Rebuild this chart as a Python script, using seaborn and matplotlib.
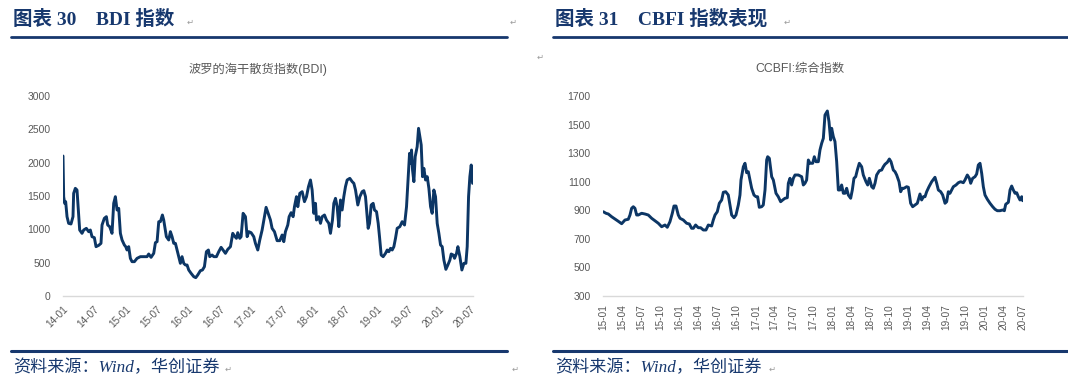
import numpy as np
import pandas as pd
import matplotlib
matplotlib.use("Agg")
import matplotlib.pyplot as plt
import matplotlib.dates as mdates
import seaborn as sns

# ---------------- data ----------------
# BDI: months since 2014-01 and index value
bdi_months = [0.0, 0.13, 0.32, 0.51, 0.77, 1.08, 1.53, 1.91, 2.04, 2.36, 2.68, 2.81, 3.19, 3.64, 3.96,
              4.47, 4.91, 5.23, 5.55, 6.00, 6.32, 6.83, 7.27, 7.47, 7.91, 8.30, 8.55, 8.93, 9.38, 9.70,
              10.02, 10.34, 10.66, 10.98, 11.30, 11.74, 12.00, 12.25, 12.57, 12.89, 13.21, 13.66, 14.17,
              14.81, 15.44, 16.08, 16.40, 16.85, 17.36, 17.68, 18.00, 18.32, 18.63, 19.02, 19.27, 19.78,
              20.23, 20.55, 20.87, 21.19, 21.51, 21.83, 22.14, 22.46, 22.78, 23.10, 23.42, 23.74, 24.06,
              24.51, 25.02, 25.40, 25.78, 26.29, 26.68, 27.06, 27.44, 27.82, 28.08, 28.53, 28.85, 29.36,
              29.80, 30.25, 30.63, 31.08, 31.53, 32.04, 32.48, 32.80, 33.18, 33.44, 33.82, 34.08, 34.46,
              34.91, 35.23, 35.55, 35.99, 36.50, 36.82, 37.27, 37.65, 38.10, 38.54, 38.86, 39.25, 39.69,
              40.01, 40.46, 40.97, 41.48, 41.93, 42.25, 42.56, 43.01, 43.27, 43.65, 44.03, 44.29, 44.67,
              44.93, 45.31, 45.76, 46.20, 46.59, 46.97, 47.35, 47.67, 47.99, 48.31, 48.50, 48.95, 49.27,
              49.59, 50.03, 50.41, 50.86, 51.18, 51.56, 51.82, 52.14, 52.46, 52.78, 53.09, 53.41, 53.73,
              54.05, 54.37, 54.88, 55.33, 55.65, 55.97, 56.41, 56.80, 57.24, 57.56, 57.88, 58.20, 58.39,
              58.65, 58.97, 59.35, 59.60, 59.99, 60.31, 60.56, 60.88, 61.26, 61.71, 62.03, 62.35, 62.67,
              62.99, 63.31, 63.62, 63.94, 64.45, 64.90, 65.35, 65.73, 65.99, 66.31, 66.50, 66.69, 66.88,
              67.14, 67.39, 67.77, 68.03, 68.28, 68.54, 68.79, 69.05, 69.37, 69.69, 70.01, 70.33, 70.64,
              70.96, 71.28, 71.60, 71.92, 72.24, 72.56, 72.88, 73.26, 73.64, 74.03, 74.28, 74.66, 74.92,
              75.30, 75.56, 75.94, 76.32, 76.71, 77.09, 77.34, 77.60, 77.85, 78.11, 78.37]
bdi_values = [2100, 1490, 1390, 1415, 1190, 1090, 1080, 1190, 1540, 1615, 1590, 1440, 990, 940, 990,
              1015, 965, 990, 890, 875, 740, 760, 790, 1065, 1165, 1190, 1065, 1040, 940, 1390,
              1490, 1290, 1315, 940, 840, 765, 740, 690, 740, 565, 515, 515, 565,
              590, 590, 590, 630, 580, 640, 800, 815, 1115, 1115, 1215, 1140, 890,
              840, 965, 890, 790, 790, 690, 590, 490, 590, 490, 465, 465, 390,
              340, 290, 275, 315, 380, 390, 440, 665, 690, 590, 615, 590, 590,
              665, 730, 690, 640, 700, 740, 940, 900, 865, 950, 865, 890, 1240,
              1190, 890, 965, 950, 890, 790, 690, 840, 990, 1190, 1330, 1240, 1140,
              1015, 965, 830, 830, 915, 815, 965, 1065, 1190, 1250, 1190, 1340, 1490,
              1340, 1540, 1565, 1415, 1490, 1640, 1740, 1590, 1240, 1390, 1140, 1190, 1090,
              1190, 1215, 1140, 1090, 940, 1140, 1390, 1465, 1340, 1040, 1440, 1290, 1490,
              1640, 1740, 1765, 1715, 1690, 1590, 1365, 1490, 1565, 1580, 1490, 1190, 1015,
              1090, 1365, 1390, 1290, 1265, 1090, 890, 615, 590, 640, 690, 665, 715,
              690, 740, 865, 1015, 1040, 1115, 1065, 1340, 1690, 2140, 1990, 2190, 1890,
              1715, 2090, 2240, 2515, 2390, 2265, 1790, 1915, 1740, 1790, 1615, 1340, 1240,
              1590, 1490, 1090, 940, 765, 740, 540, 400, 465, 540, 630, 615, 565,
              640, 740, 590, 390, 490, 490, 740, 1490, 1790, 1965, 1690]

# CCBFI: months since 2015-01 and index value
cbfi_months = [0.0, 0.42, 0.79, 1.31, 1.84, 2.36, 2.89, 3.41, 3.93, 4.20, 4.46, 4.72, 4.98, 5.25, 5.51,
               6.03, 6.56, 7.08, 7.61, 8.13, 8.66, 9.18, 9.71, 10.07, 10.49, 10.86, 11.12, 11.44, 11.80,
               12.07, 12.59, 13.12, 13.54, 13.90, 14.17, 14.53, 14.95, 15.32, 15.74, 16.16, 16.53, 17.05,
               17.31, 17.58, 17.94, 18.26, 18.63, 18.89, 19.26, 19.67, 19.94, 20.20, 20.57, 20.88, 21.25,
               21.51, 21.67, 22.04, 22.30, 22.56, 22.82, 23.09, 23.35, 23.71, 24.03, 24.29, 24.55, 24.92,
               25.18, 25.45, 25.71, 25.87, 26.13, 26.50, 26.76, 27.18, 27.54, 27.91, 28.23, 28.59, 28.96,
               29.12, 29.38, 29.64, 29.91, 30.17, 30.69, 31.22, 31.48, 31.74, 32.00, 32.27, 32.53, 32.95,
               33.21, 33.47, 33.84, 34.10, 34.37, 34.63, 34.89, 35.26, 35.52, 35.78, 35.94, 36.20, 36.46,
               36.73, 36.99, 37.25, 37.51, 37.78, 38.04, 38.30, 38.56, 38.93, 39.19, 39.45, 39.72, 39.98,
               40.29, 40.66, 40.92, 41.34, 41.61, 41.87, 42.24, 42.50, 42.76, 43.02, 43.44, 43.81, 44.07,
               44.33, 44.70, 45.02, 45.28, 45.64, 45.91, 46.17, 46.54, 46.80, 47.06, 47.32, 47.74, 48.01,
               48.37, 48.69, 49.06, 49.42, 49.84, 50.10, 50.37, 50.63, 50.89, 51.26, 51.68, 52.20, 52.47,
               52.73, 53.10, 53.41, 53.78, 54.04, 54.30, 54.56, 54.83, 55.09, 55.51, 55.88, 56.24, 56.66,
               56.92, 57.29, 57.61, 57.82, 58.13, 58.50, 58.76, 59.02, 59.29, 59.55, 59.81, 60.07, 60.44,
               60.86, 61.28, 61.65, 62.01, 62.43, 62.85, 63.12, 63.33, 63.75, 64.01, 64.27, 64.53, 64.80,
               65.06, 65.32, 65.58, 65.85, 66.00]
cbfi_values = [890, 879, 874, 855, 839, 823, 806, 832, 837, 867, 914, 925, 914, 867, 867,
               879, 874, 867, 844, 827, 809, 785, 797, 781, 820, 879, 930, 930, 867,
               844, 832, 809, 804, 774, 774, 797, 778, 778, 762, 762, 797, 790,
               832, 867, 890, 949, 972, 1026, 1030, 1007, 937, 867, 848, 867, 937,
               1007, 1112, 1205, 1229, 1163, 1170, 1112, 1054, 1007, 995, 995, 921, 925,
               937, 1042, 1252, 1275, 1264, 1135, 1112, 1019, 995, 960, 972, 984, 988,
               1089, 1124, 1077, 1124, 1147, 1147, 1135, 1077, 1089, 1112, 1252, 1229, 1229,
               1275, 1240, 1240, 1322, 1369, 1404, 1567, 1595, 1520, 1392, 1474, 1416, 1381,
               1240, 1042, 1042, 1077, 1019, 1019, 1054, 1007, 984, 1042, 1124, 1135, 1182,
               1229, 1205, 1147, 1100, 1077, 1124, 1065, 1054, 1089, 1147, 1177, 1182, 1205,
               1222, 1236, 1259, 1240, 1182, 1170, 1147, 1100, 1030, 1054, 1054, 1065, 1061,
               949, 925, 937, 949, 1014, 972, 995, 995, 1030, 1065, 1100, 1131, 1089,
               1042, 1030, 1007, 949, 960, 1030, 1019, 1042, 1065, 1077, 1093, 1100, 1093,
               1112, 1147, 1124, 1089, 1124, 1135, 1154, 1217, 1229, 1159, 1065, 1007, 977,
               949, 925, 907, 897, 897, 902, 897, 942, 956, 1042, 1070, 1042, 1019,
               1023, 995, 972, 995, 967]

bdi_ticks_months = [1, 7]
cbfi_ticks_months = [1, 4, 7, 10]
bdi_title = "波罗的海干散货指数(BDI)"
cbfi_title = "CCBFI:综合指数"
header_left = "图表 30    BDI 指数"
header_right = "图表 31    CBFI 指数表现"
source_text = "资料来源：Wind，华创证券"

# ---------------- style ----------------
sns.set_style("white")
plt.rcParams["font.family"] = ["Liberation Sans", "Noto Sans CJK SC", "DejaVu Sans"]

LINE = "#0c3665"
NAVY = "#17386e"
GRAY = "#595959"
AXIS = "#d9d9d9"

W, H = 1068, 385
fig = plt.figure(figsize=(W / 100, H / 100), dpi=100)


def fx(px):
    return px / W


def fy(py):
    return 1 - py / H


def to_dates(start, months):
    return pd.Timestamp(start) + pd.to_timedelta(np.asarray(months) * 30.4375, unit="D")


bdi_df = pd.DataFrame({"date": to_dates("2014-01-01", bdi_months), "value": bdi_values})
cbfi_df = pd.DataFrame({"date": to_dates("2015-01-01", cbfi_months), "value": cbfi_values})

# ---------------- left chart ----------------
axL = fig.add_axes([fx(63), fy(296), fx(473) - fx(63), (296 - 96) / H])
sns.lineplot(data=bdi_df, x="date", y="value", ax=axL, color=LINE, linewidth=2.1)
axL.set_xlim(pd.Timestamp("2014-01-01"), to_dates("2014-01-01", [78.45])[0])
axL.set_ylim(0, 3000)
axL.set_yticks(np.arange(0, 3001, 500))
axL.xaxis.set_major_locator(mdates.MonthLocator(bymonth=bdi_ticks_months))
axL.xaxis.set_major_formatter(mdates.DateFormatter("%y-%m"))
for lab in axL.get_xticklabels():
    lab.set_rotation(45)
    lab.set_ha("right")
    lab.set_va("top")
    lab.set_rotation_mode("anchor")

# ---------------- right chart ----------------
axR = fig.add_axes([fx(603.3), fy(296), fx(1023.3) - fx(603.3), (296 - 96) / H])
sns.lineplot(data=cbfi_df, x="date", y="value", ax=axR, color=LINE, linewidth=2.1)
axR.set_xlim(pd.Timestamp("2015-01-01"), to_dates("2015-01-01", [66.1])[0])
axR.set_ylim(300, 1700)
axR.set_yticks(np.arange(300, 1701, 200))
axR.xaxis.set_major_locator(mdates.MonthLocator(bymonth=cbfi_ticks_months))
axR.xaxis.set_major_formatter(mdates.DateFormatter("%y-%m"))
for lab in axR.get_xticklabels():
    lab.set_rotation(90)
    lab.set_ha("center")
    lab.set_va("top")

for ax in (axL, axR):
    ax.set_xlabel("")
    ax.set_ylabel("")
    for s in ("top", "right", "left"):
        ax.spines[s].set_visible(False)
    ax.spines["bottom"].set_color(AXIS)
    ax.spines["bottom"].set_linewidth(1.0)
    ax.tick_params(axis="y", length=0, pad=9, labelsize=7.5, labelcolor=GRAY)
    ax.tick_params(axis="x", length=4, width=0.8, color=AXIS, pad=2,
                   labelsize=7.2, labelcolor=GRAY, direction="out")
    ax.grid(False)
    ax.set_facecolor("none")

# ---------------- chart titles ----------------
fig.text(fx(258), fy(69), bdi_title, ha="center", va="center", fontsize=8.8, color=GRAY)
fig.text(fx(800), fy(69), cbfi_title, ha="center", va="center", fontsize=8.8, color=GRAY)

# ---------------- headers ----------------
hdr_font = ["Liberation Serif", "Noto Sans CJK SC", "DejaVu Sans"]
fig.text(fx(13), fy(19), header_left, ha="left", va="center", fontsize=14,
         fontweight="bold", color=NAVY, family=hdr_font)
fig.text(fx(555), fy(19), header_right, ha="left", va="center", fontsize=14,
         fontweight="bold", color=NAVY, family=hdr_font)

fig.add_artist(plt.Line2D([fx(11), fx(507)], [fy(37), fy(37)], color=NAVY, linewidth=2.0))
fig.add_artist(plt.Line2D([fx(553), fx(1068)], [fy(37), fy(37)], color=NAVY, linewidth=2.0))

# ---------------- footers ----------------
fig.add_artist(plt.Line2D([fx(11), fx(507)], [fy(351), fy(351)], color=NAVY, linewidth=2.2))
fig.add_artist(plt.Line2D([fx(553), fx(1068)], [fy(351), fy(351)], color=NAVY, linewidth=2.2))
src_font = ["Liberation Serif", "Noto Sans CJK SC", "DejaVu Sans"]
fig.text(fx(13), fy(368), source_text, ha="left", va="center", fontsize=12.3,
         style="italic", color=NAVY, family=src_font)
fig.text(fx(555), fy(368), source_text, ha="left", va="center", fontsize=12.3,
         style="italic", color=NAVY, family=src_font)

# paragraph marks
marks = [(190, 22), (513, 22), (787, 22), (540, 57), (228, 369), (515, 369), (772, 369)]
for mx, my in marks:
    fig.text(fx(mx), fy(my), "↵", ha="center", va="center", fontsize=6,
             color="#9a9a9a", family=["DejaVu Sans"])

fig.savefig("out.png", dpi=100, facecolor="white")
